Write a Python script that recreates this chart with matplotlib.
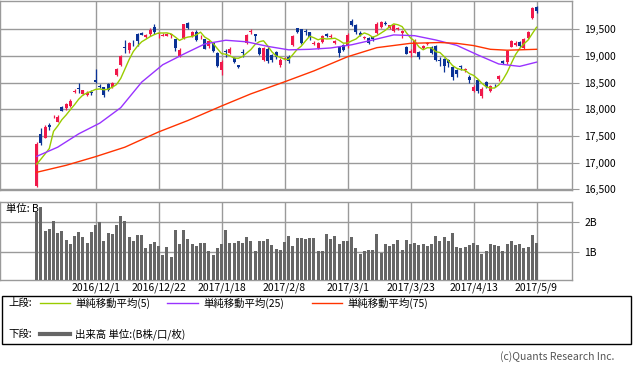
import matplotlib
matplotlib.use('Agg')
import matplotlib.pyplot as plt
import numpy as np
import pandas as pd
from matplotlib.lines import Line2D
from matplotlib.patches import Rectangle

plt.rcParams['font.family'] = ['Noto Sans CJK JP', 'DejaVu Sans']
plt.rcParams['font.size'] = 7.5

# ---------------- data ----------------
opens = [16570, 17540, 17470, 17715, 17850, 17770, 18040, 18020, 18060, 18320,
         18395, 18290, 18260, 18320, 18545, 18440, 18410, 18470, 18415, 18640,
         18830, 19170, 19120, 19270, 19420, 19440, 19350, 19410, 19540, 19420,
         19380, 19380, 19390, 19310, 19000, 19330, 19620, 19370, 19450, 19350,
         19310, 19180, 19240, 19060, 18740, 19090, 19050, 18960, 18830, 19070,
         19240, 19450, 19410, 19150, 18925, 19140, 19020, 19070, 18830, 18940,
         18985, 19206, 19519, 19500, 19460, 19444, 19220, 19150, 19260, 19420,
         19360, 19240, 19175, 19206, 19187, 19662, 19581, 19425, 19335, 19331,
         19362, 19425, 19537, 19625, 19519, 19460, 19515, 19425, 19175, 19060,
         19062, 19081, 19150, 19220, 19175, 19187, 18930, 18950, 18925, 18800,
         18737, 18800, 18735, 18612, 18350, 18550, 18250, 18519, 18340, 18440,
         18562, 18900, 18880, 19175, 19210, 19269, 19144, 19331, 19706, 19925]
highs = [17380, 17645, 17700, 17750, 17885, 17885, 18060, 18120, 18190, 18380,
         18490, 18370, 18335, 18370, 18750, 18480, 18420, 18490, 18510, 18770,
         19020, 19300, 19270, 19300, 19440, 19450, 19410, 19520, 19592, 19450,
         19440, 19440, 19420, 19320, 19150, 19600, 19630, 19470, 19480, 19400,
         19320, 19300, 19250, 19070, 18930, 19140, 19160, 18980, 18840, 19140,
         19420, 19500, 19420, 19160, 19170, 19175, 19030, 19090, 18960, 18990,
         19020, 19400, 19530, 19510, 19500, 19450, 19290, 19270, 19400, 19440,
         19420, 19300, 19185, 19220, 19430, 19690, 19600, 19460, 19380, 19350,
         19380, 19630, 19650, 19650, 19590, 19600, 19550, 19480, 19190, 19130,
         19312, 19090, 19210, 19260, 19190, 19200, 18990, 18960, 18940, 18810,
         18750, 18840, 18770, 18650, 18456, 18560, 18412, 18530, 18460, 18470,
         18640, 18925, 19112, 19300, 19290, 19280, 19340, 19460, 19925, 19935]
lows = [16540, 17330, 17455, 17610, 17830, 17760, 17960, 17990, 18040, 18300,
        18300, 18270, 18250, 18265, 18490, 18400, 18230, 18350, 18400, 18620,
        18820, 19050, 19060, 19190, 19190, 19390, 19330, 19380, 19420, 19330,
        19370, 19370, 19340, 19100, 18990, 19320, 19500, 19360, 19290, 19320,
        19130, 19150, 19080, 18800, 18650, 18990, 19040, 18860, 18770, 18990,
        19230, 19420, 19290, 19020, 18900, 18860, 18880, 18950, 18800, 18920,
        18870, 19190, 19430, 19230, 19390, 19300, 19200, 19130, 19250, 19360,
        19340, 19220, 18990, 19100, 19150, 19560, 19420, 19370, 19310, 19230,
        19280, 19410, 19530, 19590, 19500, 19450, 19480, 19330, 19030, 18990,
        19050, 18950, 19130, 19200, 19040, 18900, 18810, 18706, 18800, 18550,
        18600, 18740, 18700, 18490, 18331, 18300, 18220, 18400, 18320, 18410,
        18540, 18850, 18850, 19160, 19190, 19160, 19130, 19320, 19690, 19800]
closes = [17355, 17375, 17672, 17668, 17862, 17862, 17967, 18106, 18162, 18333,
          18381, 18356, 18307, 18308, 18513, 18426, 18275, 18360, 18497, 18765,
          18996, 19155, 19250, 19253, 19273, 19401, 19391, 19494, 19444, 19427,
          19396, 19403, 19401, 19145, 19114, 19594, 19520, 19454, 19301, 19364,
          19134, 19287, 19095, 18813, 18894, 19072, 19137, 18891, 18788, 19057,
          19402, 19467, 19368, 19041, 19148, 18914, 18918, 18976, 18920, 18965,
          18900, 19378, 19445, 19238, 19445, 19347, 19234, 19251, 19381, 19379,
          19371, 19283, 19050, 19118, 19393, 19575, 19450, 19390, 19350, 19250,
          19315, 19604, 19633, 19605, 19577, 19590, 19522, 19460, 19041, 19085,
          19280, 18985, 19190, 19237, 19063, 18925, 18910, 18810, 18861, 18597,
          18664, 18790, 18747, 18552, 18426, 18335, 18380, 18418, 18432, 18430,
          18620, 18875, 19090, 19289, 19251, 19196, 19310, 19445, 19895, 19843]
# closes of the four sessions before the first candle (for the 5-day average)
prior_closes = [16905, 17177, 17171, 16251]

volumes = [2.36, 2.53, 1.72, 1.77, 2.04, 1.65, 1.72, 1.40, 1.26, 1.53,
           1.66, 1.51, 1.31, 1.68, 1.91, 2.02, 1.38, 1.65, 1.60, 1.91,
           2.21, 2.04, 1.51, 1.38, 1.57, 1.57, 1.14, 1.25, 1.32, 1.19,
           0.89, 1.15, 0.83, 1.74, 1.26, 1.74, 1.43, 1.26, 1.19, 1.31,
           1.31, 1.02, 0.90, 1.13, 1.26, 1.74, 1.31, 1.31, 1.36, 1.31,
           1.51, 1.38, 1.02, 1.38, 1.38, 1.42, 1.23, 1.09, 1.06, 1.34,
           1.53, 1.21, 1.48, 1.48, 1.42, 1.48, 1.48, 1.02, 1.02, 1.61,
           1.43, 1.53, 1.26, 1.36, 1.36, 1.49, 1.13, 0.92, 1.03, 1.05,
           1.05, 1.60, 0.97, 1.26, 1.19, 1.26, 1.40, 1.06, 1.40, 1.26,
           1.31, 1.23, 1.26, 1.19, 1.26, 1.53, 1.37, 1.49, 1.37, 1.65,
           1.15, 1.12, 1.15, 1.23, 1.29, 1.23, 0.92, 1.03, 1.26, 1.23,
           1.20, 1.03, 1.26, 1.37, 1.23, 1.26, 1.12, 1.17, 1.57, 1.31]

# 25- and 75-day averages at these bar positions
ma25_idx = [0, 5, 10, 15, 20, 25, 30, 35, 40, 45, 50, 55, 60, 65, 70, 75, 80,
            85, 90, 95, 100, 105, 110, 115, 119]
ma25_val = [17118, 17290, 17540, 17740, 18030, 18510, 18835, 19035, 19225,
            19295, 19265, 19180, 19115, 19125, 19150, 19210, 19300, 19395,
            19380, 19300, 19200, 19020, 18850, 18805, 18884]
ma75_idx = [0, 7, 14, 21, 29, 36, 44, 51, 59, 66, 74, 81, 89, 96, 100, 104,
            108, 112, 119]
ma75_val = [16819, 16950, 17112, 17290, 17575, 17790, 18062, 18290, 18515,
            18720, 18985, 19156, 19237, 19252, 19237, 19195, 19125, 19108, 19125]

date_idx = [14, 29, 44, 59, 74, 89, 104, 119]
date_labels = ['2016/12/1', '2016/12/22', '2017/1/18', '2017/2/8',
               '2017/3/1', '2017/3/23', '2017/4/13', '2017/5/9']
price_ticks = [16500, 17000, 17500, 18000, 18500, 19000, 19500]
vol_ticks = [1, 2]
vol_tick_labels = ['1B', '2B']

# ---------------- styling ----------------
UP = '#f0194b'
DOWN = '#0a3296'
C5 = '#99cc00'
C25 = '#9933ff'
C75 = '#ff3300'
GRID = '#9a9a9a'
VOLC = '#666666'

W, H = 633, 371
fig = plt.figure(figsize=(W / 100, H / 100), dpi=100)


def rect(l, t, r, b):
    return [l / W, 1 - b / H, (r - l) / W, (b - t) / H]


def fy(y):
    return 1 - y / H


ax = fig.add_axes(rect(0, 0.5, 572, 190))
axv = fig.add_axes(rect(0, 201.7, 572, 280))

n = len(closes)
x = np.arange(n)
o = np.array(opens, float)
c = np.array(closes, float)
hi = np.array(highs, float)
lo = np.array(lows, float)
up = c >= o
cols = np.where(up, UP, DOWN)

for a in (ax, axv):
    a.set_xlim(-8.74, 127.45)
    a.set_xticks(date_idx)
    a.grid(True, color=GRID, lw=1)
    a.set_axisbelow(True)
    for s in a.spines.values():
        s.set_color(GRID)
        s.set_linewidth(1)
    a.yaxis.tick_right()
    a.tick_params(axis='y', length=5, color=GRID, pad=4, labelsize=7.5)
    a.tick_params(axis='x', length=0)

ax.set_ylim(16487, 20040)
ax.set_yticks(price_ticks)
ax.set_yticklabels([f'{v:,}' for v in price_ticks])
ax.tick_params(axis='x', labelbottom=False)

# candles
ax.vlines(x, lo, hi, colors=cols, lw=0.9, zorder=3)
body_h = np.maximum(np.abs(c - o), 14)
ax.bar(x, body_h, bottom=np.minimum(o, c), width=0.72, color=cols,
       linewidth=0, zorder=4)

# moving averages
s = pd.Series(prior_closes + closes, dtype=float)
ma5 = s.rolling(5).mean().to_numpy()[len(prior_closes):]
ax.plot(x, ma5, color=C5, lw=1, zorder=5)
ax.plot(ma25_idx, ma25_val, color=C25, lw=1, zorder=5)
ax.plot(ma75_idx, ma75_val, color=C75, lw=1, zorder=5)

# volume
axv.set_ylim(0.037, 2.70)
axv.set_yticks(vol_ticks)
axv.set_yticklabels(vol_tick_labels)
axv.bar(x, volumes, width=0.72, color=VOLC, linewidth=0, zorder=3)
axv.set_xticklabels(date_labels)
axv.tick_params(axis='x', pad=2, labelsize=7.5)
fig.text(6 / W, fy(209), '単位: B', va='center', ha='left', fontsize=7.5,
         zorder=10)

# legend box
fig.add_artist(Rectangle((2 / W, fy(344)), 629 / W, 48 / H, transform=fig.transFigure,
                         fill=False, edgecolor='black', lw=1))
fig.text(8 / W, fy(303), '上段:', va='center', ha='left')
fig.text(8 / W, fy(334), '下段:', va='center', ha='left')
for (x0, x1, col, lab) in [(40, 70, C5, '単純移動平均(5)'),
                           (167, 198, C25, '単純移動平均(25)'),
                           (312, 342, C75, '単純移動平均(75)')]:
    fig.add_artist(Line2D([x0 / W, x1 / W], [fy(303)] * 2, color=col, lw=1,
                          transform=fig.transFigure))
    fig.text((x1 + 5) / W, fy(303), lab, va='center', ha='left')
fig.add_artist(Line2D([40 / W, 70 / W], [fy(334)] * 2, color=VOLC, lw=3,
                      transform=fig.transFigure))
fig.text(75 / W, fy(334), '出来高 単位:(B株/口/枚)', va='center', ha='left')

fig.text(614 / W, fy(357), '(c)Quants Research Inc.', va='center', ha='right',
         color='#555555', fontsize=7.5)

fig.savefig('out.png', dpi=100)
